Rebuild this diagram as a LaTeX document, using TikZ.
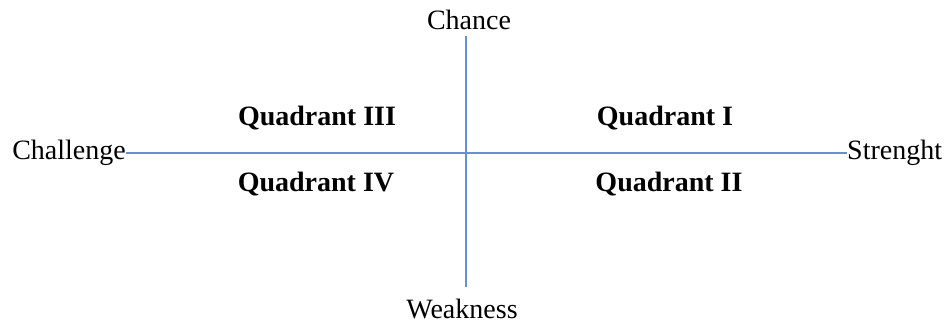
\documentclass[tikz,border=0pt]{standalone}
\usepackage{fontspec}
\setmainfont{Liberation Serif}
\usepackage{tikz}
\usetikzlibrary{positioning}

\definecolor{axisblue}{RGB}{98,145,212}

\begin{document}
\begin{tikzpicture}[
            x=1pt, y=-1pt,
            axis/.style={draw=axisblue, line width=2pt}, % Blue axis lines
            axislabel/.style={inner sep=0pt, font=\fontsize{28}{32}\selectfont}, % Labels at the axis ends
            quadrant/.style={inner sep=0pt, font=\fontsize{28}{32}\selectfont\bfseries} % Bold quadrant names
            ]

        \useasboundingbox (0,0) rectangle (947,324);

        % Labels at the four ends of the axes
        \node[axislabel] (chance) at (469,20) {Chance};
        \node[axislabel] (weakness) at (462,309) {Weakness};
        \node[axislabel, anchor=east] (challenge) at (126,153) {Challenge};
        \node[axislabel, anchor=west] (strenght) at (847,153) {Strenght};

        % The two axes
        \draw[axis] (challenge.east) -- (strenght.west);
        \draw[axis, shorten <=6pt, shorten >=12pt] (chance.south -| 466,0) -- (weakness.north -| 466,0);

        % Quadrant names
        \node[quadrant] (q3) at (317,118) {Quadrant III};
        \node[quadrant] (q1) at (665,118) {Quadrant I};
        \node[quadrant] (q4) at (316,184) {Quadrant IV};
        \node[quadrant] (q2) at (669,184) {Quadrant II};

\end{tikzpicture}
\end{document}
